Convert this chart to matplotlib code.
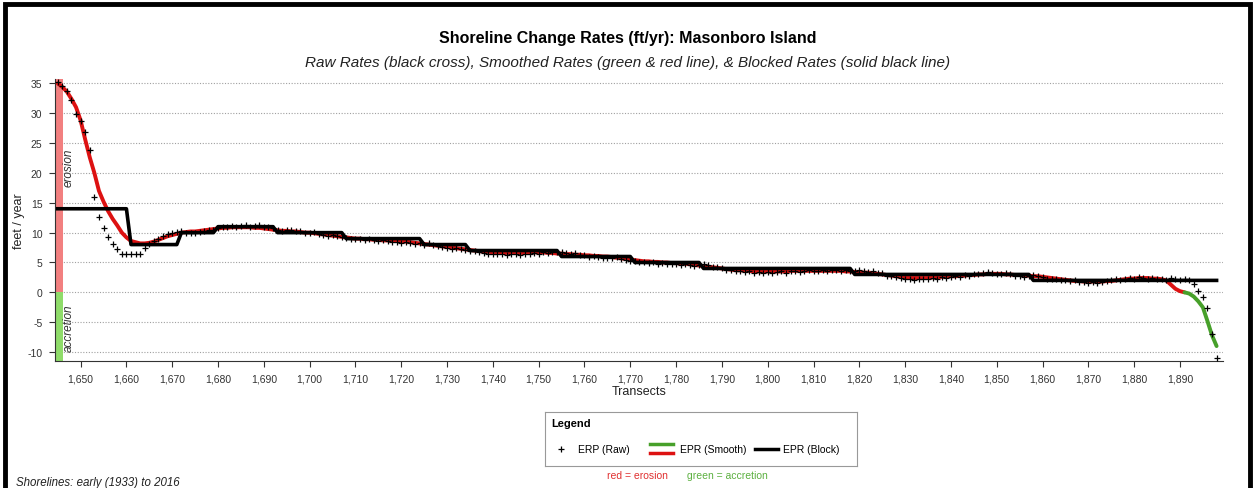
import numpy as np
import matplotlib
matplotlib.use("Agg")
import matplotlib.pyplot as plt
from matplotlib.patches import Rectangle

plt.rcParams['font.family'] = ['Liberation Sans', 'DejaVu Sans']
plt.rcParams['axes.unicode_minus'] = False

# Transekte 1645 .. 1898
first_transect = 1645

# geglaettete Raten (ft/yr), eine pro Transekt
smooth = [
    35.0, 34.4, 33.6, 32.4, 31.0, 28.8, 25.6, 22.6, 20.0, 17.0,
    15.2, 13.6, 12.3, 11.2, 10.0, 9.2, 8.6, 8.4, 8.2, 8.2,
    8.3, 8.5, 8.8, 9.1, 9.4, 9.6, 9.8, 10.0, 10.1, 10.2,
    10.2, 10.3, 10.4, 10.5, 10.6, 10.7, 10.8, 10.8, 10.9, 10.9,
    10.9, 10.9, 10.9, 10.8, 10.8, 10.7, 10.6, 10.5, 10.4, 10.3,
    10.3, 10.2, 10.2, 10.1, 10.0, 10.0, 9.9, 9.8, 9.7, 9.6,
    9.5, 9.4, 9.3, 9.2, 9.1, 9.0, 9.0, 8.9, 8.9, 8.8,
    8.8, 8.7, 8.7, 8.6, 8.6, 8.5, 8.5, 8.4, 8.3, 8.2,
    8.1, 8.0, 7.9, 7.8, 7.7, 7.6, 7.5, 7.4, 7.3, 7.2,
    7.1, 7.0, 6.9, 6.8, 6.8, 6.7, 6.7, 6.6, 6.6, 6.6,
    6.6, 6.6, 6.6, 6.6, 6.7, 6.7, 6.7, 6.6, 6.6, 6.5,
    6.5, 6.4, 6.4, 6.3, 6.3, 6.2, 6.2, 6.1, 6.1, 6.0,
    6.0, 5.9, 5.8, 5.7, 5.6, 5.5, 5.4, 5.3, 5.2, 5.2,
    5.1, 5.1, 5.0, 5.0, 4.9, 4.9, 4.8, 4.8, 4.7, 4.6,
    4.5, 4.4, 4.3, 4.2, 4.1, 4.0, 3.9, 3.8, 3.7, 3.7,
    3.6, 3.6, 3.5, 3.5, 3.5, 3.5, 3.5, 3.5, 3.5, 3.5,
    3.6, 3.6, 3.6, 3.6, 3.6, 3.6, 3.6, 3.6, 3.6, 3.6,
    3.6, 3.6, 3.5, 3.5, 3.4, 3.4, 3.3, 3.3, 3.2, 3.1,
    3.0, 2.9, 2.8, 2.7, 2.6, 2.5, 2.4, 2.4, 2.4, 2.4,
    2.4, 2.5, 2.5, 2.6, 2.6, 2.7, 2.7, 2.8, 2.8, 2.9,
    2.9, 3.0, 3.0, 3.1, 3.1, 3.1, 3.1, 3.0, 3.0, 2.9,
    2.9, 2.8, 2.8, 2.7, 2.7, 2.6, 2.5, 2.4, 2.3, 2.2,
    2.1, 2.0, 1.9, 1.9, 1.8, 1.8, 1.8, 1.8, 1.8, 1.9,
    1.9, 2.0, 2.1, 2.2, 2.3, 2.3, 2.4, 2.4, 2.4, 2.3,
    2.3, 2.2, 2.0, 1.3, 0.6, 0.2, 0.0, -0.2, -0.7, -1.5,
    -2.5, -4.8, -7.2, -9.0,
]

# Rohwerte (schwarze Kreuze)
raw = [
    35.3, 34.6, 33.8, 32.2, 29.9, 28.7, 26.8, 23.8, 16.0, 12.6,
    10.8, 9.2, 8.1, 7.2, 6.5, 6.5, 6.5, 6.5, 6.4, 7.4,
    8.1, 8.6, 9.0, 9.4, 9.7, 9.9, 10.1, 10.2, 10.0, 9.9,
    10.0, 10.1, 10.2, 10.4, 10.5, 10.8, 11.0, 10.9, 11.1, 11.0,
    11.1, 11.2, 11.0, 11.1, 11.2, 11.0, 10.9, 10.8, 10.5, 10.3,
    10.5, 10.4, 10.3, 10.2, 10.0, 9.9, 10.1, 9.8, 9.6, 9.5,
    9.6, 9.4, 9.2, 9.1, 9.0, 8.9, 9.0, 8.8, 8.9, 8.7,
    8.6, 8.8, 8.6, 8.4, 8.5, 8.3, 8.4, 8.2, 8.1, 8.2,
    8.0, 8.2, 7.9, 7.7, 7.6, 7.5, 7.3, 7.4, 7.2, 7.1,
    7.0, 6.9, 6.7, 6.6, 6.5, 6.4, 6.5, 6.4, 6.3, 6.5,
    6.4, 6.3, 6.5, 6.4, 6.6, 6.5, 6.7, 6.6, 6.8, 6.7,
    6.8, 6.6, 6.5, 6.6, 6.3, 6.2, 6.0, 6.1, 5.9, 5.8,
    5.8, 5.7, 5.9, 5.6, 5.5, 5.3, 5.2, 5.1, 5.0, 4.9,
    5.0, 4.8, 4.9, 4.7, 4.8, 4.7, 4.6, 4.8, 4.5, 4.4,
    4.6, 4.7, 4.5, 4.3, 4.2, 4.0, 3.8, 3.7, 3.6, 3.5,
    3.4, 3.5, 3.3, 3.4, 3.3, 3.4, 3.3, 3.4, 3.5, 3.3,
    3.5, 3.6, 3.4, 3.5, 3.7, 3.6, 3.5, 3.7, 3.6, 3.8,
    3.7, 3.6, 3.7, 3.6, 3.5, 3.7, 3.6, 3.4, 3.5, 3.3,
    3.2, 2.8, 2.7, 2.5, 2.4, 2.3, 2.2, 2.1, 2.2, 2.3,
    2.2, 2.4, 2.3, 2.5, 2.4, 2.6, 2.7, 2.6, 2.9, 2.8,
    3.0, 3.1, 3.2, 3.4, 3.2, 3.1, 3.0, 3.2, 3.1, 2.8,
    2.7, 2.6, 2.7, 2.9, 2.8, 2.6, 2.3, 2.2, 2.2, 2.1,
    2.1, 1.9, 2.0, 1.7, 1.8, 1.6, 1.7, 1.6, 1.8, 1.9,
    2.0, 2.2, 2.1, 2.3, 2.4, 2.2, 2.5, 2.4, 2.3, 2.4,
    2.2, 2.3, 2.1, 2.4, 2.2, 2.1, 2.3, 2.0, 1.4, 0.3,
    -0.8, -2.7, -7.0, -11.0,
]

# Blockraten: Beginn jedes Blocks und Wert
block_start = [1645, 1661, 1672, 1680, 1693, 1708, 1725, 1735, 1755, 1771, 1786, 1819, 1858]
block_value = [14, 8, 10, 11, 10, 9, 8, 7, 6, 5, 4, 3, 2]
last_transect = 1898

x_ticks = list(range(1650, 1891, 10))
y_ticks = [-10, -5, 0, 5, 10, 15, 20, 25, 30, 35]

transects = np.arange(first_transect, first_transect + len(smooth))
smooth = np.array(smooth)
raw = np.array(raw)
counts = np.diff(block_start + [last_transect + 1])
block = np.repeat(block_value, counts)

fig = plt.figure(figsize=(12.55, 4.89), dpi=100)
ax = fig.add_axes([0.0438, 0.2597, 0.9307, 0.5763])

# Rahmen um das ganze Bild
fig.add_artist(Rectangle((0.004, -0.01), 0.992, 1.0, transform=fig.transFigure,
                         fill=False, edgecolor="black", linewidth=3.5))

# Farbbalken erosion / accretion
y0, y1 = -11.5, 35.7
ax.axvspan(1644.4, 1646.2, ymin=(0 - y0) / (y1 - y0), ymax=1, color="#f28080", lw=0, zorder=1)
ax.axvspan(1644.4, 1646.2, ymin=0, ymax=(0 - y0) / (y1 - y0), color="#8fdc6a", lw=0, zorder=1)
ax.text(1647.4, 21, "erosion", rotation=90, ha="center", va="center",
        fontsize=8.5, style="italic", color="#333333")
ax.text(1647.4, -5.8, "accretion", rotation=90, ha="center", va="center",
        fontsize=8.5, style="italic", color="#333333")

# geglaettete Linie: rot = Erosion, gruen = Akkretion
sm_pos = np.where(smooth >= 0, smooth, np.nan)
i0 = np.argmax(smooth < 0)
sm_neg = np.where(np.arange(len(smooth)) >= i0 - 1, smooth, np.nan)
ax.plot(transects, sm_pos, color="#dd1111", lw=2.8, zorder=3, solid_capstyle="round")
ax.plot(transects, sm_neg, color="#47a02a", lw=2.8, zorder=3, solid_capstyle="round")

ax.plot(transects, block, color="black", lw=2.6, zorder=4)
ax.plot(transects, raw, "+", color="black", ms=5, mew=0.9, zorder=5)

ax.set_xlim(1644.4, 1899.4)
ax.set_ylim(y0, y1)
ax.set_xticks(x_ticks)
ax.set_xticklabels(["{:,}".format(t) for t in x_ticks])
ax.set_yticks(y_ticks)
ax.tick_params(labelsize=7.5, colors="#333333", length=4, width=0.8, pad=5)
ax.grid(axis="y", linestyle=(0, (1, 1.5)), color="#a0a0a0", lw=0.8)
ax.set_axisbelow(True)
for s in ["top", "right"]:
    ax.spines[s].set_visible(False)
ax.spines["left"].set_color("#333333")
ax.spines["bottom"].set_color("#333333")

ax.set_xlabel("Transects", fontsize=9, color="#222222", labelpad=1)
ax.set_ylabel("feet / year", fontsize=9, color="#222222")
ax.yaxis.set_label_coords(-(55 - 25) / 1168, 0.5)

fig.text(0.5, 1 - 38 / 489, "Shoreline Change Rates (ft/yr): Masonboro Island",
         ha="center", va="center", fontsize=11.5, fontweight="bold")
fig.text(0.5, 1 - 63 / 489, "Raw Rates (black cross), Smoothed Rates (green & red line), & Blocked Rates (solid black line)",
         ha="center", va="center", fontsize=11, style="italic", color="#222222")
fig.text(16 / 1255, 1 - 483 / 489, "Shorelines: early (1933) to 2016",
         ha="left", va="center", fontsize=8.3, style="italic", color="#222222")

# Legende von Hand
lg = fig.add_axes([545 / 1255, 1 - 467 / 489, 312 / 1255, 54 / 489])
lg.set_xlim(0, 1)
lg.set_ylim(0, 1)
lg.set_xticks([])
lg.set_yticks([])
for s in lg.spines.values():
    s.set_color("#999999")
lg.text(0.02, 0.80, "Legend", fontsize=8, fontweight="bold", va="center")
lg.plot([0.05], [0.32], "+", color="black", ms=5, mew=0.9)
lg.text(0.105, 0.32, "ERP (Raw)", fontsize=7.5, va="center")
lg.plot([0.337, 0.41], [0.40, 0.40], color="#47a02a", lw=2.5)
lg.plot([0.337, 0.41], [0.24, 0.24], color="#dd1111", lw=2.5)
lg.text(0.433, 0.32, "EPR (Smooth)", fontsize=7.5, va="center")
lg.plot([0.673, 0.747], [0.32, 0.32], color="black", lw=2.5)
lg.text(0.763, 0.32, "EPR (Block)", fontsize=7.5, va="center")

fig.text(607 / 1255, 1 - 476 / 489, "red = erosion", fontsize=7.5, color="#e03030", va="center")
fig.text(687 / 1255, 1 - 476 / 489, "green = accretion", fontsize=7.5, color="#5cb040", va="center")

fig.savefig("out.png", dpi=100)
